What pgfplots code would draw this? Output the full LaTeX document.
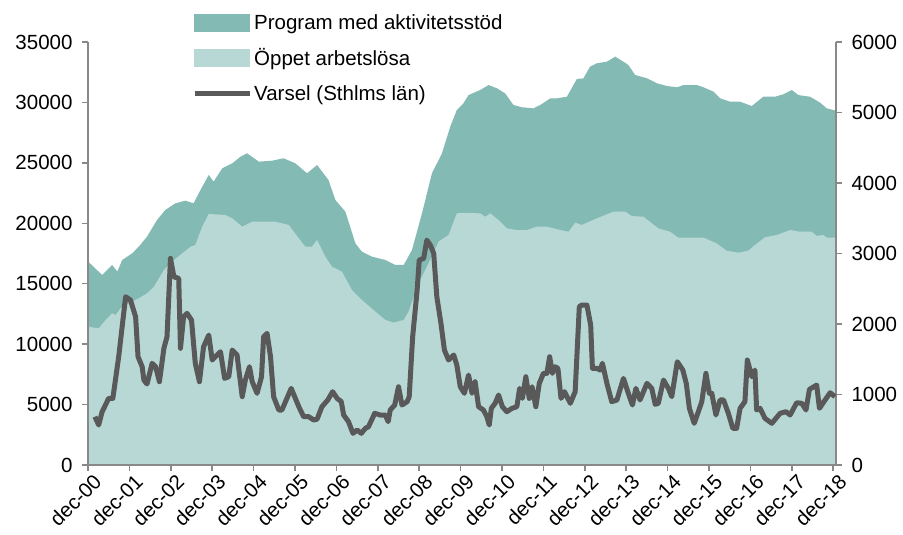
\documentclass[border=0pt]{standalone}
\usepackage{pgfplots}
\pgfplotsset{compat=1.18}
\usepackage{fontspec}
\setmainfont{Liberation Sans}
\definecolor{darkteal}{RGB}{132,186,180}
\definecolor{lightteal}{RGB}{184,216,214}
\definecolor{varselgray}{RGB}{89,89,89}
\definecolor{axisgray}{RGB}{137,137,137}
\newcommand{\chartfont}{\fontsize{20.5}{24}\selectfont}
\begin{document}
\begin{tikzpicture}
\useasboundingbox (-88pt,-70pt) rectangle (815pt,465pt);
\pgfplotsset{
  base/.style={
    width=748pt, height=423pt, scale only axis,
    xmin=0, xmax=216.8,
    tick align=outside, major tick length=6pt,
    every tick/.style={axisgray, line width=1.5pt},
    axis line style={axisgray, line width=1.5pt},
    tick label style={font=\chartfont},
    /pgf/number format/assume math mode=true,
    /pgf/number format/set thousands separator={},
    scaled y ticks=false,
  }
}
\begin{axis}[base,
  axis on top,
  ymin=0, ymax=35000,
  ytick={0,5000,...,35000},
  axis y line*=left, axis x line*=bottom,
  xtick={0,12,...,216},
  xticklabels={dec-00,dec-01,dec-02,dec-03,dec-04,dec-05,dec-06,dec-07,dec-08,dec-09,dec-10,dec-11,dec-12,dec-13,dec-14,dec-15,dec-16,dec-17,dec-18},
  xticklabel style={rotate=45, anchor=north east, inner sep=2pt, xshift=4pt, yshift=-2pt},
  yticklabel style={xshift=-6pt},
]
% Program med aktivitetsstod (total top)
\addplot[fill=darkteal, draw=none] table {
0 16850
4.1 15720
7.0 16550
8.5 16000
9.9 16960
12.8 17510
14.7 18060
17.1 18890
20.0 20270
22.4 21100
25.3 21650
28.2 21870
30.6 21650
32.6 22750
35.0 24000
36.4 23440
38.9 24550
41.8 24960
44.2 25510
46.1 25790
49.5 25100
53.4 25180
56.7 25380
60.1 24960
63.5 24140
66.4 24820
69.7 23580
71.7 21930
74.6 20960
77.5 18340
79.4 17650
82.3 17240
86.2 16960
89.1 16550
91.5 16550
93.9 17790
96.8 20820
99.7 24140
102.6 25790
105.0 28000
106.9 29370
108.8 29920
110.3 30610
113.7 31030
116.1 31440
118.5 31170
120.9 30750
123.3 29790
125.8 29600
129.1 29510
131.1 29790
134.0 30340
135.9 30340
138.8 30470
141.7 31940
143.6 31990
145.5 32960
147.5 33240
150.4 33370
152.8 33790
155.2 33370
156.6 33100
158.6 32270
162.0 32000
164.9 31580
167.8 31360
170.7 31250
172.6 31440
176.5 31440
178.4 31250
181.3 30890
183.2 30340
186.1 30060
189.0 30060
192.4 29700
195.7 30470
199.1 30470
201.5 30670
204.0 31030
205.9 30610
209.3 30470
212.2 29980
214.1 29510
216.8 29320
} \closedcycle;
% Oppet arbetslosa
\addplot[fill=lightteal, draw=none] table {
0 11440
3.1 11310
5.1 12000
7.0 12550
8.0 12410
9.4 12960
11.8 13380
14.7 13790
17.1 14200
19.1 14750
22.0 16130
24.4 16820
27.3 17510
29.7 18060
31.1 18200
33.1 19720
35.0 20770
39.8 20690
41.8 20410
44.7 19720
47.6 20130
54.3 20130
58.2 19860
61.1 18760
63.0 18060
64.9 18060
66.4 18620
68.8 17240
70.7 16410
73.6 16000
76.5 14480
79.4 13650
83.3 12690
86.2 12000
88.6 11780
91.5 12000
92.9 12690
95.8 15030
98.7 16690
101.6 18480
104.5 19030
106.9 20820
107.9 20870
113.7 20820
115.1 20540
116.6 20820
119.0 20270
121.4 19580
124.3 19440
127.2 19440
130.1 19720
133.0 19720
136.9 19440
139.3 19300
141.2 20050
143.1 19860
147.5 20410
152.3 20960
155.7 20960
157.6 20600
161.0 20540
165.3 19580
168.7 19300
171.1 18810
174.5 18810
178.4 18810
182.2 18340
185.1 17730
188.5 17570
191.4 17730
193.3 18200
196.2 18840
199.6 19030
203.5 19440
206.4 19300
209.8 19300
211.2 18950
213.1 19030
214.1 18810
216.8 18810
} \closedcycle;
\end{axis}
\begin{axis}[base,
  ymin=0, ymax=6000,
  ytick={0,1000,...,6000},
  axis y line*=right, axis x line=none,
  yticklabel style={xshift=6pt},
  legend style={draw=none, fill=none, at={(0.139,1.071)}, anchor=north west,
    font=\chartfont, inner sep=0pt, row sep=14pt,
    cells={anchor=west}},
]
\addlegendimage{legend image code/.code={\fill[darkteal] (0pt,-8.5pt) rectangle (55pt,8.5pt);}}
\addlegendentry{Program med aktivitetsstöd}
\addlegendimage{legend image code/.code={\fill[lightteal] (0pt,-8.5pt) rectangle (55pt,8.5pt);}}
\addlegendentry{Öppet arbetslösa}
\addlegendimage{legend image code/.code={\draw[varselgray, line width=5pt] (0pt,0pt) -- (55pt,0pt);}}
\addlegendentry{Varsel (Sthlms län)}
\addplot[varselgray, line width=5pt, line join=round, forget plot] table {
2.0 685
3.1 567
4.1 756
6.0 945
7.2 945
8.9 1536
10.9 2387
12.3 2340
13.8 2103
14.5 1536
15.7 1394
16.2 1205
17.1 1149
18.6 1442
19.6 1394
20.7 1181
22.0 1655
22.9 1819
23.9 2931
24.9 2670
26.3 2647
26.8 1655
27.7 2103
28.7 2151
30.0 2056
31.1 1442
32.3 1181
33.5 1678
35.0 1843
36.0 1489
37.4 1560
38.4 1607
39.6 1229
40.8 1252
41.8 1631
43.2 1560
44.7 969
45.6 1205
46.8 1394
47.6 1181
49.0 1017
50.3 1252
50.9 1819
51.9 1867
52.9 1536
53.8 969
55.3 780
56.2 780
58.9 1087
61.1 827
62.5 685
64.0 685
65.4 638
66.4 650
67.8 827
69.5 922
70.9 1040
72.2 945
73.4 900
74.1 709
75.5 614
76.8 449
78.0 496
79.2 449
80.4 520
81.3 543
83.1 733
84.7 709
86.2 709
87.0 614
87.6 780
88.9 851
90.0 1110
91.0 851
92.5 898
93.1 969
94.1 1819
95.4 2482
96.0 2907
97.3 2931
98.2 3190
99.2 3120
100.2 3002
101.1 2387
102.3 2009
103.3 1631
104.5 1489
106.0 1560
106.9 1418
107.9 1110
109.1 1017
110.3 1276
111.3 1017
112.2 1181
113.2 827
114.6 780
115.6 685
116.3 567
116.9 804
118.0 875
119.0 993
120.1 827
121.4 756
122.9 804
124.3 827
125.1 1087
125.9 945
126.9 1252
127.9 945
128.7 1110
129.8 827
130.8 1158
132.0 1300
133.0 1300
133.8 1536
134.6 1300
135.4 1394
136.2 1370
137.1 945
138.1 1040
139.8 875
141.2 1040
142.4 2245
143.1 2269
144.6 2269
145.7 1985
146.2 1371
147.5 1371
148.4 1347
149.1 1442
150.4 1158
151.8 898
153.3 922
155.2 1229
156.6 1017
157.8 851
158.8 1087
160.0 922
162.0 1158
163.4 1087
164.4 860
165.3 875
166.8 1205
168.2 1087
169.2 969
170.8 1465
172.4 1347
173.4 1158
174.3 804
175.7 591
176.9 756
177.9 898
179.1 1300
180.1 1017
180.8 1017
182.0 709
183.2 922
184.2 922
185.6 733
186.9 520
188.0 520
189.0 804
190.4 898
191.1 1489
192.4 1252
193.3 1347
193.8 780
194.8 804
196.2 662
198.2 591
199.4 662
200.6 733
202.3 756
203.5 709
205.4 883
206.9 875
208.1 780
209.1 1073
211.2 1134
212.0 804
213.3 898
215.1 1025
216.5 969
};
\end{axis}
\end{tikzpicture}
\end{document}
